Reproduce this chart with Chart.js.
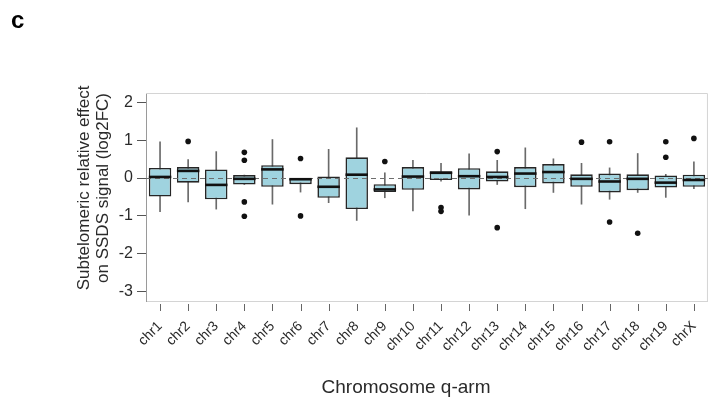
<!DOCTYPE html>
<html lang="en">

<head>
    <meta charset="UTF-8">
    <title>SSDS q-arm boxplot</title>
    <style>
        body { margin: 0; background: #fff; }
        canvas { display: block; }
    </style>
</head>

<body>
    <canvas id="myChart" width="723" height="401"></canvas>

    <script src="https://cdnjs.cloudflare.com/ajax/libs/Chart.js/4.4.1/chart.umd.js"></script>
    <script>
        // values (log2FC)
        var chromosomes = ['chr1', 'chr2', 'chr3', 'chr4', 'chr5', 'chr6', 'chr7', 'chr8', 'chr9', 'chr10',
            'chr11', 'chr12', 'chr13', 'chr14', 'chr15', 'chr16', 'chr17', 'chr18', 'chr19', 'chrX'];
        var whiskerLow = [-0.89, -0.63, -0.82, -0.17, -0.69, -0.37, -0.65, -1.12, -0.52, -0.87,
            -0.08, -0.98, -0.17, -0.81, -0.38, -0.69, -0.56, -0.38, -0.51, -0.28];
        var q1 = [-0.49, -0.12, -0.56, -0.17, -0.23, -0.16, -0.52, -0.82, -0.37, -0.31,
            -0.05, -0.30, -0.09, -0.24, -0.14, -0.23, -0.38, -0.32, -0.25, -0.23];
        var medians = [0.03, 0.19, -0.18, -0.02, 0.23, -0.03, -0.23, 0.09, -0.30, 0.04,
            0.14, 0.05, 0.03, 0.12, 0.16, -0.02, -0.09, -0.02, -0.12, -0.05];
        var q3 = [0.27, 0.29, 0.23, 0.08, 0.34, -0.01, 0.04, 0.55, -0.16, 0.29,
            0.18, 0.26, 0.18, 0.29, 0.37, 0.10, 0.12, 0.10, 0.07, 0.09];
        var whiskerHigh = [0.96, 0.49, 0.70, 0.08, 1.02, -0.01, 0.76, 1.33, 0.14, 0.47,
            0.39, 0.64, 0.47, 0.80, 0.51, 0.39, 0.27, 0.65, 0.10, 0.43];
        var outlierChrom = ['chr2', 'chr4', 'chr4', 'chr4', 'chr4', 'chr6', 'chr6', 'chr9', 'chr11', 'chr11',
            'chr13', 'chr13', 'chr16', 'chr17', 'chr17', 'chr18', 'chr19', 'chr19', 'chrX'];
        var outlierValue = [0.97, 0.68, 0.47, -0.63, -1.01, 0.52, -1.0, 0.44, -0.78, -0.88,
            0.70, -1.31, 0.95, 0.96, -1.16, -1.46, 0.96, 0.55, 1.05];
        var yTicks = [-3, -2, -1, 0, 1, 2];

        var fontFamily = "'Liberation Sans', Arial, sans-serif";

        document.addEventListener("DOMContentLoaded", function () {

            var boxRanges = [], whiskerRanges = [], outliers = [];
            for (var i = 0; i < chromosomes.length; i++) {
                boxRanges.push([q1[i], q3[i]]);
                whiskerRanges.push([whiskerLow[i], whiskerHigh[i]]);
            }
            for (var j = 0; j < outlierChrom.length; j++) {
                outliers.push({ x: outlierChrom[j], y: outlierValue[j] });
            }

            // frame, x ticks (detached from the frame), zero line, medians, titles
            var boxExtras = {
                id: 'boxExtras',
                beforeDatasetsDraw: function (chart) {
                    var a = chart.chartArea, ctx = chart.ctx, x = chart.scales.x;
                    ctx.save();
                    ctx.strokeStyle = '#d4d4d4';
                    ctx.lineWidth = 1;
                    ctx.beginPath();
                    ctx.moveTo(a.left, a.top + 0.5);
                    ctx.lineTo(a.right - 0.5, a.top + 0.5);
                    ctx.lineTo(a.right - 0.5, a.bottom);
                    ctx.stroke();

                    ctx.strokeStyle = '#666';
                    ctx.beginPath();
                    for (var i = 0; i < chromosomes.length; i++) {
                        var tx = Math.round(x.getPixelForValue(i)) + 0.5;
                        ctx.moveTo(tx, a.bottom + 3);
                        ctx.lineTo(tx, a.bottom + 10);
                    }
                    ctx.stroke();
                    ctx.restore();
                },
                afterDatasetsDraw: function (chart) {
                    var a = chart.chartArea, ctx = chart.ctx;
                    var x = chart.scales.x, y = chart.scales.y;
                    var boxes = chart.getDatasetMeta(1).data;
                    var y0 = Math.round(y.getPixelForValue(0)) + 0.5;

                    ctx.save();
                    ctx.strokeStyle = '#6e6e6e';
                    ctx.lineWidth = 1;
                    ctx.setLineDash([5, 4]);
                    ctx.beginPath();
                    ctx.moveTo(a.left, y0);
                    ctx.lineTo(a.right, y0);
                    ctx.stroke();
                    ctx.setLineDash([]);

                    ctx.strokeStyle = '#111';
                    ctx.lineWidth = 2.6;
                    for (var i = 0; i < medians.length; i++) {
                        var cx = x.getPixelForValue(i);
                        var hw = boxes[i].width / 2;
                        var my = y.getPixelForValue(medians[i]);
                        ctx.beginPath();
                        ctx.moveTo(cx - hw, my);
                        ctx.lineTo(cx + hw, my);
                        ctx.stroke();
                    }

                    ctx.fillStyle = '#000';
                    ctx.font = 'bold 24px ' + fontFamily;
                    ctx.textAlign = 'left';
                    ctx.textBaseline = 'alphabetic';
                    ctx.fillText('c', 11, 28);

                    ctx.fillStyle = '#2a2a2a';
                    ctx.font = '19px ' + fontFamily;
                    ctx.textAlign = 'center';
                    ctx.fillText('Chromosome q-arm', 406, 393);

                    ctx.font = '17px ' + fontFamily;
                    ctx.textBaseline = 'middle';
                    ctx.translate(0, 188);
                    ctx.rotate(-Math.PI / 2);
                    ctx.fillText('Subtelomeric relative effect', 0, 84);
                    ctx.fillText('on SSDS signal (log2FC)', 0, 103);
                    ctx.restore();
                }
            };

            var ctx = document.getElementById('myChart').getContext('2d');
            var myBoxChart = new Chart(ctx, {
                type: 'bar',
                data: {
                    labels: chromosomes,
                    datasets: [
                        {
                            type: 'scatter',
                            data: outliers,
                            backgroundColor: '#111',
                            borderWidth: 0,
                            pointRadius: 2.8,
                            order: 1
                        },
                        {
                            data: boxRanges,
                            grouped: false,
                            backgroundColor: '#9fd3df',
                            borderColor: '#262626',
                            borderWidth: 1.6,
                            borderSkipped: false,
                            barPercentage: 0.8,
                            categoryPercentage: 1.0,
                            order: 2
                        },
                        {
                            data: whiskerRanges,
                            grouped: false,
                            backgroundColor: '#6a6a6a',
                            borderWidth: 0,
                            barThickness: 1,
                            order: 3
                        }
                    ]
                },
                options: {
                    responsive: false,
                    animation: false,
                    devicePixelRatio: 1,
                    layout: { padding: { top: 93, right: 9, left: 0, bottom: 0 } },
                    plugins: {
                        legend: { display: false },
                        tooltip: { enabled: false }
                    },
                    scales: {
                        x: {
                            type: 'category',
                            offset: true,
                            afterFit: function (s) { s.height = 100; },
                            border: { color: '#d4d4d4' },
                            grid: {
                                offset: false,
                                drawOnChartArea: false,
                                drawTicks: false
                            },
                            ticks: {
                                autoSkip: false,
                                minRotation: 45,
                                maxRotation: 45,
                                padding: 17,
                                color: '#2a2a2a',
                                font: { family: fontFamily, size: 14 }
                            }
                        },
                        y: {
                            min: -3.25,
                            max: 2.25,
                            afterFit: function (s) { s.width = 146; },
                            afterBuildTicks: function (s) {
                                s.ticks = yTicks.map(function (v) { return { value: v }; });
                            },
                            border: { color: '#9a9a9a' },
                            grid: {
                                drawOnChartArea: false,
                                color: '#555',
                                tickLength: 9
                            },
                            ticks: {
                                padding: 4,
                                color: '#2a2a2a',
                                font: { family: fontFamily, size: 16 }
                            }
                        }
                    }
                },
                plugins: [boxExtras]
            });
        });
    </script>
</body>

</html>
